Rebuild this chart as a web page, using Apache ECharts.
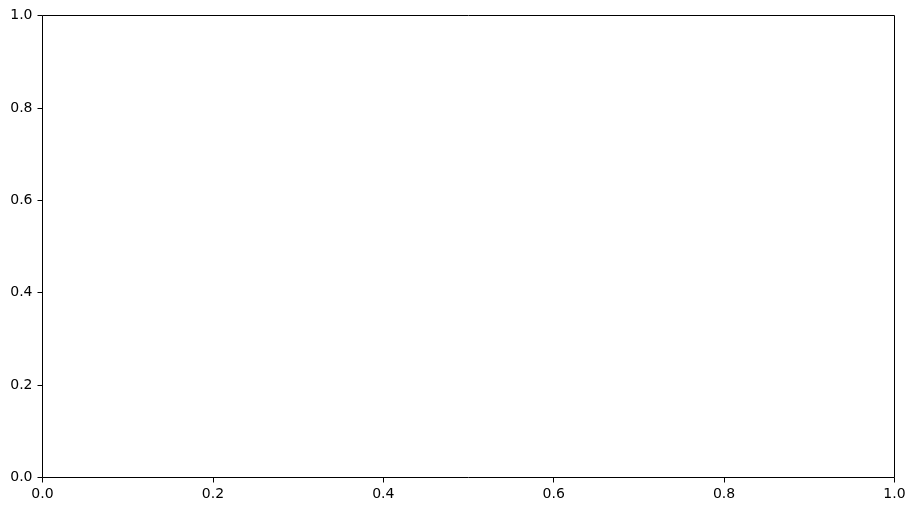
<!DOCTYPE html>
<html>
<head>
<meta charset="utf-8">
<script src="https://cdn.jsdelivr.net/npm/echarts@6/dist/echarts.min.js"></script>
<style>
  html, body { margin: 0; padding: 0; background: #fff; }
  #chart { width: 915px; height: 511px; }
</style>
</head>
<body>
<div id="chart"></div>
<script>
// empty axes: both axes run 0..1, ticks every 0.2
const xRange = [0, 1];
const yRange = [0, 1];
const tickStep = 0.2;
const seriesData = [];

const chart = echarts.init(document.getElementById('chart'));

const axisCommon = {
  type: 'value',
  interval: tickStep,
  // the frame comes from the grid border, so the axis line itself is hidden
  axisLine: { show: false, onZero: false },
  axisTick: { show: true, inside: false, length: 5, lineStyle: { color: '#000', width: 1 } },
  axisLabel: {
    color: '#000',
    fontFamily: 'DejaVu Sans',
    fontSize: 14,
    margin: 10,
    showMinLabel: true,
    showMaxLabel: true,
    formatter: v => v.toFixed(1)
  },
  splitLine: { show: false }
};

chart.setOption({
  animation: false,
  backgroundColor: '#fff',
  grid: {
    // half-pixel offsets keep the 1px frame crisp
    left: 42.5, right: 20.5, top: 15.5, bottom: 33.5,
    show: true, borderColor: '#000', borderWidth: 1, backgroundColor: 'transparent'
  },
  xAxis: Object.assign({}, axisCommon, { min: xRange[0], max: xRange[1] }),
  yAxis: Object.assign({}, axisCommon, { min: yRange[0], max: yRange[1] }),
  series: [{ type: 'line', data: seriesData }]
});
</script>
</body>
</html>
